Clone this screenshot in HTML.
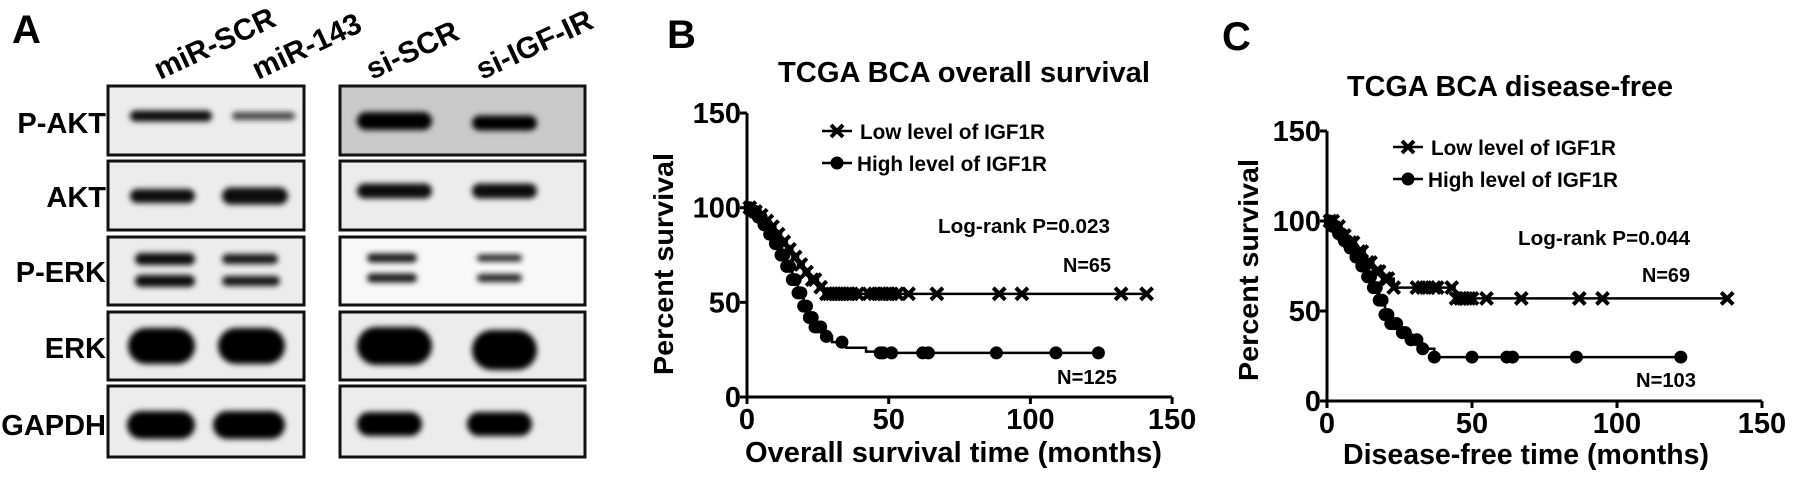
<!DOCTYPE html>
<html><head><meta charset="utf-8"><style>
html,body{margin:0;padding:0;background:#fff;width:1795px;height:481px;overflow:hidden}
svg{display:block;font-family:"Liberation Sans",Arial,sans-serif;font-weight:bold}
</style></head><body>
<svg id="fig" width="1795" height="481" viewBox="0 0 1795 481">
<defs>
<filter id="bl" x="-30%" y="-60%" width="160%" height="220%"><feGaussianBlur stdDeviation="3"/></filter>
</defs>
<text x="12" y="43" font-size="40">A</text>
<g font-size="30">
<text transform="translate(160,80) rotate(-25)">miR-SCR</text>
<text transform="translate(258,80) rotate(-25)">miR-143</text>
<text transform="translate(372,80) rotate(-25)">si-SCR</text>
<text transform="translate(482,80) rotate(-25)">si-IGF-IR</text>
</g>
<g id="blots"></g>
<g font-size="29" text-anchor="end">
<text x="106" y="133">P-AKT</text>
<text x="106" y="207">AKT</text>
<text x="106" y="282">P-ERK</text>
<text x="106" y="358">ERK</text>
<text x="106" y="435">GAPDH</text>
</g>
<text x="667" y="48" font-size="40">B</text>
<text x="778" y="82" font-size="29" textLength="372" lengthAdjust="spacingAndGlyphs">TCGA BCA overall survival</text>
<g id="chartB"></g>
<text x="1222" y="50" font-size="40">C</text>
<text x="1347" y="96" font-size="29" textLength="326" lengthAdjust="spacingAndGlyphs">TCGA BCA disease-free</text>
<g id="chartC"></g>
</svg>
<script>
// Chart B data
const bLowT=[0,2,4,6,8,10,12,14,16,18,20,22,25,27];
const bLowS=[100,98,96,93,90,86,82,78,74,70,66,62,58,54.5];
const bLowCensor=[1,3,5,7,9,11,13,15,17,19,21,23,24,26,28,29,30,31,32,33,34,35,36,37,39,43,45,47,48,49,50,51,53,57,67,89,97,132,141];
const bHighT=[0,2,4,6,8,10,12,14,16,18,20,22,24,27,30,35,42,47];
const bHighS=[100,98,95,91,86,81,75,69,62,55,48,42,37,32,29,26,24,23.3];
const bHighCensor=[1,2,3,4,5,6,7,8,9,10,11,12,13,14,15,16,17,18,19,20,21,22,23,24,25,26,28,33.5,47,48,51,62,64,88,109,124];
// Chart C data
const cLowT=[0,3,5,7,10,13,16,19,23,44];
const cLowS=[100,97,92,88,83,77,72,68,63,57];
const cLowCensor=[1,2,4,6,8,9,11,12,14,15,17,18,20,21,23,31,33,35,37,38,43,44.5,46,47,48,49,50,55,67,87,95,138];
const cHighT=[0,2,4,6,8,10,12,14,16,18,20,22,25,28,32,37];
const cHighS=[100,97,93,89,85,80,75,69,63,56,48,43,38,34,29,24.4];
const cHighCensor=[1,2,3,4,5,6,7,8,9,10,11,12,13,14,15,16,17,18,19,20,21,22,23,24,26,27,29,31,33,37,50,62,64,86,122];
const xTicks=[0,50,100,150];
const yTicks=[0,50,100,150];

const NS='http://www.w3.org/2000/svg';
function mk(tag,attrs,parent){const e=document.createElementNS(NS,tag);for(const k in attrs)e.setAttribute(k,attrs[k]);parent.appendChild(e);return e;}
function survAt(T,S,t){let v=S[0];for(let i=0;i<T.length;i++){if(T[i]<=t)v=S[i];}return v;}
function txt(parent,x,y,size,str,len){const a={x,y,'font-size':size};if(len){a.textLength=len;a.lengthAdjust='spacingAndGlyphs';}const t=mk('text',a,parent);t.textContent=str;return t;}

function drawChart(g,cfg){
  const xs=t=>cfg.x0+t*cfg.kx, ys=v=>cfg.y0-v*cfg.ky;
  const ax=mk('path',{d:`M${xs(0)},${ys(150)} V${ys(0)} H${xs(150)}`,fill:'none',stroke:'#000','stroke-width':3},g);
  
  
  xTicks.forEach(t=>{
    const l=mk('line',{x1:xs(t),x2:xs(t),y1:ys(0),y2:ys(0)+7,stroke:'#000','stroke-width':3},g);
    
    
    const tx=mk('text',{x:xs(t),y:ys(0)+32,'font-size':29,'text-anchor':'middle'},g);tx.textContent=t;
    
    
  });
  yTicks.forEach(v=>{
    const l=mk('line',{x1:xs(0)-7,x2:xs(0),y1:ys(v),y2:ys(v),stroke:'#000','stroke-width':3},g);
    
    
    const tx=mk('text',{x:xs(0)-6,y:ys(v)+10,'font-size':29,'text-anchor':'end'},g);tx.textContent=v;
    
    
  });
  const yt=mk('text',{transform:`translate(${cfg.ytX},${cfg.ytY}) rotate(-90)`,'font-size':28,'text-anchor':'middle',textLength:222,lengthAdjust:'spacingAndGlyphs'},g);yt.textContent='Percent survival';
  
  
  const xt=txt(g,cfg.xtX,cfg.xtY,29,cfg.xTitle,cfg.xtLen);
  
  
  function series(T,S,C,kind,name){
    const end=Math.max(...C);
    let d=`M${xs(T[0])},${ys(S[0])}`;
    for(let i=1;i<T.length;i++){d+=` H${xs(T[i])} V${ys(S[i])}`;}
    d+=` H${xs(end)}`;
    const p=mk('path',{d,fill:'none',stroke:'#000','stroke-width':2.5},g);
    
    
    C.forEach(t=>{
      const cx=xs(t),cy=ys(survAt(T,S,t));
      if(kind==='x'){
        const m=mk('path',{d:`M${cx-6},${cy-6}L${cx+6},${cy+6}M${cx-6},${cy+6}L${cx+6},${cy-6}`,stroke:'#000','stroke-width':4,fill:'none'},g);
        
        
      }else{
        const m=mk('circle',{cx,cy,r:6.5,fill:'#000'},g);
        
        
      }
    });
  }
  series(cfg.lowT,cfg.lowS,cfg.lowC,'x','low-igf1r');
  series(cfg.highT,cfg.highS,cfg.highC,'o','high-igf1r');
  const lg=mk('g',{},g);
  
  
  const [lx,ly]=cfg.leg;
  mk('line',{x1:lx-15,x2:lx+15,y1:ly,y2:ly,stroke:'#000','stroke-width':2.5},lg);
  mk('path',{d:`M${lx-6},${ly-6}L${lx+6},${ly+6}M${lx-6},${ly+6}L${lx+6},${ly-6}`,stroke:'#000','stroke-width':4},lg);
  const t1=txt(lg,lx+23,ly+8,21,'Low level of IGF1R',185);
  
  
  mk('line',{x1:lx-15,x2:lx+15,y1:ly+cfg.legGap,y2:ly+cfg.legGap,stroke:'#000','stroke-width':2.5},lg);
  mk('circle',{cx:lx,cy:ly+cfg.legGap,r:6.5,fill:'#000'},lg);
  const t2=txt(lg,lx+20,ly+cfg.legGap+8,21,'High level of IGF1R',190);
  
  
  const a=txt(g,cfg.pv[0],cfg.pv[1],20,cfg.pText,172);
  
  
  const n1=txt(g,cfg.n1[0],cfg.n1[1],20,cfg.n1[2],48);
  
  
  const n2=txt(g,cfg.n2[0],cfg.n2[1],20,cfg.n2[2],60);
  
  
}
const gB=document.getElementById('chartB');


drawChart(gB,{x0:747,kx:2.834,y0:397,ky:1.893,ytX:673,ytY:264,xtX:745,xtY:462,xtLen:417,xTitle:'Overall survival time (months)',
  lowT:bLowT,lowS:bLowS,lowC:bLowCensor,highT:bHighT,highS:bHighS,highC:bHighCensor,
  leg:[837,131],legGap:32,pv:[938,233],pText:'Log-rank P=0.023',n1:[1063,272,'N=65'],n2:[1057,384,'N=125']});
const gC=document.getElementById('chartC');


drawChart(gC,{x0:1327,kx:2.9,y0:401,ky:1.8,ytX:1258,ytY:270,xtX:1343,xtY:464,xtLen:366,xTitle:'Disease-free time (months)',
  lowT:cLowT,lowS:cLowS,lowC:cLowCensor,highT:cHighT,highS:cHighS,highC:cHighCensor,
  leg:[1408,147],legGap:32,pv:[1518,245],pText:'Log-rank P=0.044',n1:[1642,282,'N=69'],n2:[1636,387,'N=103']});

// Blots
const bg=document.getElementById('blots');


const rows=[[86,155],[161,230],[237,305],[312,380],[386,457]];
const rowNames=['p-akt','akt','p-erk','erk','gapdh'];
const panels=[[108,304],[340,585]];
const bands={
 0:[[[130,212,116,11,0.95],[232,295,116,8,0.7]],[[125,200,121,18,1],[240,305,123,15,1]]],
 1:[[[130,195,196,14,0.95],[222,288,196,17,0.95]],[[125,200,191,15,0.95],[240,305,191,15,0.95]]],
 2:[[[135,195,259,12,0.95],[135,195,281,12,0.95],[222,278,259,10,0.9],[222,280,281,10,0.9]],[[135,185,258,9,0.9],[135,185,278,9,0.9],[245,290,258,7,0.85],[245,290,278,8,0.85]]],
 3:[[[128,195,346,36,1],[218,285,346,36,1]],[[125,200,346,38,1],[240,305,350,40,1]]],
 4:[[[127,195,425,28,1],[213,285,425,28,1]],[[125,190,424,24,1],[235,300,424,24,1]]]
};
rows.forEach((r,ri)=>{
  panels.forEach((p,pi)=>{
    const fill=(pi===1&&ri===0)?'#c9c9c9':(ri===2&&pi===1?'#f8f8f8':'#ececec');
    const rect=mk('rect',{x:p[0],y:r[0],width:p[1]-p[0],height:r[1]-r[0],fill,stroke:'#111','stroke-width':3},bg);
    
    
    const off=pi?(p[0]-108):0;
    bands[ri][pi].forEach(b=>{
      const x1=b[0]+off, x2=b[1]+off;
      const band=mk('rect',{x:x1,y:b[2]-b[3]/2,width:x2-x1,height:b[3],rx:b[3]/2,fill:'#000','fill-opacity':b[4],filter:'url(#bl)'},bg);
      
      
    });
  });
});
</script>
</body></html>
